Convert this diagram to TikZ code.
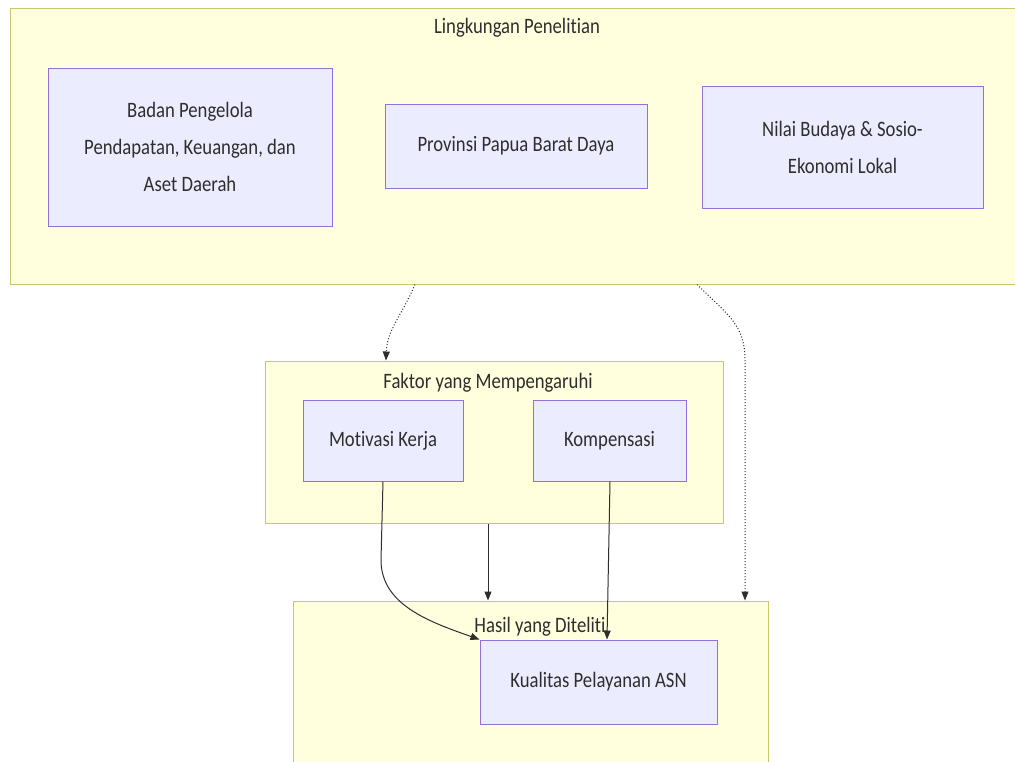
\documentclass[tikz,border=0pt]{standalone}
\usepackage{fontspec}
\setmainfont{Carlito}[FakeStretch=0.85,Ligatures=NoCommon]
\usetikzlibrary{arrows.meta,calc}
\definecolor{clfill}{HTML}{FFFFDE}
\definecolor{clline}{HTML}{C8C86A}
\definecolor{ndfill}{HTML}{ECECFF}
\definecolor{ndline}{HTML}{9370DB}
\definecolor{txt}{HTML}{2E2E2E}
\tikzset{
  cluster/.style={draw=clline, fill=clfill, line width=1pt, inner sep=0pt},
  box/.style={draw=ndline, fill=ndfill, line width=1pt, inner sep=0pt, align=center, text=txt,
    font=\fontsize{22}{37}\selectfont},
  ctitle/.style={text=txt, font=\fontsize{22}{26}\selectfont, inner sep=0pt},
  link/.style={draw=txt, line width=1pt, -{Triangle[length=9pt,width=7pt]}},
  dlink/.style={link, dotted},
}
\begin{document}
\begin{tikzpicture}[x=1pt,y=-1pt]
\useasboundingbox (0,0) rectangle (1015,761);
\fill[white] (0,0) rectangle (1015,761);
\clip (0,0) rectangle (1015,761);
% clusters
\node[cluster, minimum width=1020pt, minimum height=276pt] (env) at (520,146) {};
\node[ctitle] (envt) at (517,28) {Lingkungan Penelitian};
\node[cluster, minimum width=458pt, minimum height=162pt] (fak) at (494,442) {};
\node[ctitle] (fakt) at (488,383) {Faktor yang Mempengaruhi};
\node[cluster, minimum width=475pt, minimum height=174pt] (has) at (530.5,688) {};
\node[ctitle] (hast) at (540,627) {Hasil yang Diteliti};
% nodes
\node[box, minimum width=284pt, minimum height=158pt] (badan) at (190,147)
  {Badan Pengelola\\Pendapatan, Keuangan, dan\\Aset Daerah};
\node[box, minimum width=262pt, minimum height=84pt] (prov) at (516,146) {Provinsi Papua Barat Daya};
\node[box, minimum width=281pt, minimum height=122pt] (nilai) at (842.5,147) {Nilai Budaya \& Sosio-\\Ekonomi Lokal};
\node[box, minimum width=160pt, minimum height=81pt] (mot) at (383,440.5) {Motivasi Kerja};
\node[box, minimum width=153pt, minimum height=81pt] (komp) at (609.5,440.5) {Kompensasi};
\node[box, minimum width=237pt, minimum height=84pt] (kual) at (598.5,682) {Kualitas Pelayanan ASN};
% connectors
\draw[dlink] ([xshift=-105pt]env.south) .. controls (402,315) and (387,330) .. ([xshift=-108pt]fak.north);
\draw[dlink] ([xshift=177pt]env.south) .. controls (728,315) and (745,325) .. (745,360) -- ([xshift=214.5pt]has.north);
\draw[link] ([xshift=-6pt]fak.south) -- ([xshift=-42.5pt]has.north);
\draw[link] (mot.south) -- (381,560) .. controls (381,605) and (430,622) .. (kual.north west);
\draw[link] ([xshift=0.5pt]komp.south) -- ([xshift=8.5pt]kual.north);
\end{tikzpicture}
\end{document}
